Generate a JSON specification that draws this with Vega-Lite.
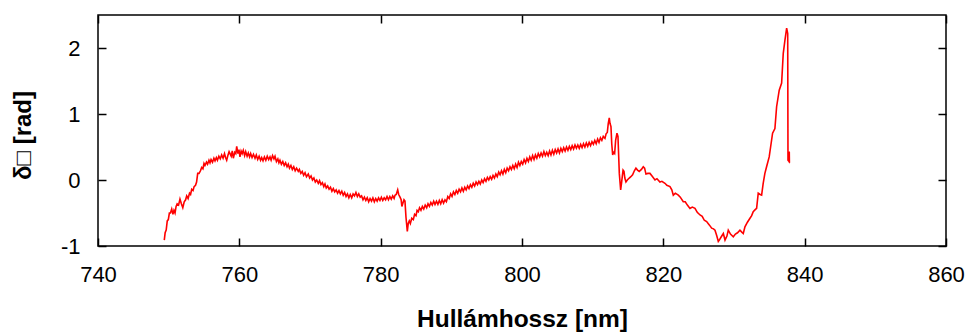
{
  "$schema": "https://vega.github.io/schema/vega-lite/v6.json",
  "width": 848,
  "height": 231,
  "autosize": {"type": "none"},
  "padding": {"left": 98, "top": 15, "right": 33, "bottom": 90},
  "config": {
    "font": "Liberation Sans",
    "view": {"stroke": "#000000", "strokeWidth": 1.5},
    "axis": {"grid": false, "domain": false, "tickColor": "#000000", "tickWidth": 1.5, "labelColor": "#000000", "titleColor": "#000000", "labelFont": "Liberation Sans", "titleFont": "Liberation Sans", "labelFlush": false, "labelOverlap": false}
  },
  "data": {"values": [
{"x":749.38,"y":-0.91},{"x":749.5,"y":-0.80},{"x":749.65,"y":-0.76},{"x":749.8,"y":-0.62},{"x":749.95,"y":-0.60},{"x":750.1,"y":-0.50},{"x":750.25,"y":-0.50},{"x":750.43,"y":-0.44},{"x":750.6,"y":-0.52},{"x":750.75,"y":-0.46},{"x":750.9,"y":-0.50},{"x":751.05,"y":-0.40},{"x":751.2,"y":-0.36},{"x":751.4,"y":-0.38},{"x":751.6,"y":-0.29},{"x":751.8,"y":-0.36},{"x":752.0,"y":-0.42},{"x":752.2,"y":-0.33},{"x":752.4,"y":-0.30},{"x":752.55,"y":-0.24},{"x":752.75,"y":-0.28},{"x":752.95,"y":-0.20},{"x":753.1,"y":-0.22},{"x":753.26,"y":-0.14},{"x":753.45,"y":-0.16},{"x":753.6,"y":-0.10},{"x":753.8,"y":-0.08},{"x":753.95,"y":-0.03},{"x":754.11,"y":0.10},{"x":754.3,"y":0.10},{"x":754.5,"y":0.14},{"x":754.67,"y":0.19},{"x":754.85,"y":0.17},{"x":755.0,"y":0.25},{"x":755.14,"y":0.22},{"x":755.35,"y":0.27},{"x":755.5,"y":0.24},{"x":755.7,"y":0.30},{"x":755.85,"y":0.26},{"x":756.0,"y":0.31},{"x":756.2,"y":0.27},{"x":756.4,"y":0.33},{"x":756.56,"y":0.29},{"x":756.75,"y":0.34},{"x":756.9,"y":0.30},{"x":757.1,"y":0.36},{"x":757.3,"y":0.32},{"x":757.5,"y":0.38},{"x":757.7,"y":0.33},{"x":757.9,"y":0.40},{"x":758.05,"y":0.34},{"x":758.21,"y":0.30},{"x":758.4,"y":0.38},{"x":758.55,"y":0.43},{"x":758.68,"y":0.40},{"x":758.85,"y":0.36},{"x":759.0,"y":0.44},{"x":759.15,"y":0.33},{"x":759.35,"y":0.42},{"x":759.5,"y":0.40},{"x":759.63,"y":0.51},{"x":759.8,"y":0.40},{"x":759.95,"y":0.46},{"x":760.09,"y":0.35},{"x":760.25,"y":0.44},{"x":760.4,"y":0.40},{"x":760.56,"y":0.45},{"x":760.75,"y":0.37},{"x":760.9,"y":0.43},{"x":761.1,"y":0.36},{"x":761.27,"y":0.41},{"x":761.45,"y":0.35},{"x":761.6,"y":0.40},{"x":761.8,"y":0.34},{"x":762.0,"y":0.39},{"x":762.22,"y":0.33},{"x":762.4,"y":0.38},{"x":762.6,"y":0.31},{"x":762.8,"y":0.36},{"x":763.0,"y":0.30},{"x":763.16,"y":0.34},{"x":763.35,"y":0.29},{"x":763.55,"y":0.35},{"x":763.75,"y":0.30},{"x":763.95,"y":0.36},{"x":764.15,"y":0.31},{"x":764.34,"y":0.35},{"x":764.5,"y":0.30},{"x":764.7,"y":0.37},{"x":764.9,"y":0.32},{"x":765.05,"y":0.36},{"x":765.25,"y":0.28},{"x":765.45,"y":0.32},{"x":765.6,"y":0.26},{"x":765.75,"y":0.30},{"x":765.95,"y":0.24},{"x":766.15,"y":0.28},{"x":766.35,"y":0.22},{"x":766.55,"y":0.26},{"x":766.75,"y":0.20},{"x":766.93,"y":0.24},{"x":767.1,"y":0.18},{"x":767.3,"y":0.22},{"x":767.5,"y":0.16},{"x":767.7,"y":0.20},{"x":767.9,"y":0.14},{"x":768.1,"y":0.18},{"x":768.34,"y":0.13},{"x":768.5,"y":0.16},{"x":768.7,"y":0.10},{"x":768.9,"y":0.13},{"x":769.1,"y":0.07},{"x":769.3,"y":0.11},{"x":769.5,"y":0.05},{"x":769.76,"y":0.09},{"x":769.95,"y":0.03},{"x":770.15,"y":0.06},{"x":770.35,"y":0.0},{"x":770.55,"y":0.03},{"x":770.75,"y":-0.03},{"x":770.95,"y":0.0},{"x":771.17,"y":-0.05},{"x":771.35,"y":-0.01},{"x":771.55,"y":-0.07},{"x":771.75,"y":-0.04},{"x":771.95,"y":-0.10},{"x":772.12,"y":-0.06},{"x":772.3,"y":-0.12},{"x":772.5,"y":-0.09},{"x":772.7,"y":-0.14},{"x":772.9,"y":-0.11},{"x":773.1,"y":-0.17},{"x":773.3,"y":-0.13},{"x":773.5,"y":-0.18},{"x":773.7,"y":-0.15},{"x":773.9,"y":-0.20},{"x":774.1,"y":-0.16},{"x":774.3,"y":-0.21},{"x":774.5,"y":-0.17},{"x":774.7,"y":-0.23},{"x":774.9,"y":-0.19},{"x":775.1,"y":-0.25},{"x":775.3,"y":-0.21},{"x":775.5,"y":-0.27},{"x":775.7,"y":-0.22},{"x":775.9,"y":-0.27},{"x":776.1,"y":-0.21},{"x":776.3,"y":-0.24},{"x":776.5,"y":-0.19},{"x":776.7,"y":-0.25},{"x":776.9,"y":-0.21},{"x":777.1,"y":-0.26},{"x":777.3,"y":-0.24},{"x":777.5,"y":-0.30},{"x":777.7,"y":-0.26},{"x":777.9,"y":-0.31},{"x":778.1,"y":-0.27},{"x":778.3,"y":-0.33},{"x":778.5,"y":-0.28},{"x":778.7,"y":-0.32},{"x":778.9,"y":-0.27},{"x":779.1,"y":-0.33},{"x":779.3,"y":-0.28},{"x":779.5,"y":-0.32},{"x":779.7,"y":-0.27},{"x":779.9,"y":-0.31},{"x":780.1,"y":-0.26},{"x":780.3,"y":-0.31},{"x":780.5,"y":-0.27},{"x":780.7,"y":-0.30},{"x":780.9,"y":-0.25},{"x":781.1,"y":-0.30},{"x":781.3,"y":-0.25},{"x":781.5,"y":-0.29},{"x":781.7,"y":-0.24},{"x":781.9,"y":-0.28},{"x":782.03,"y":-0.23},{"x":782.2,"y":-0.22},{"x":782.41,"y":-0.15},{"x":782.55,"y":-0.22},{"x":782.74,"y":-0.26},{"x":782.9,"y":-0.30},{"x":783.0,"y":-0.40},{"x":783.12,"y":-0.36},{"x":783.3,"y":-0.30},{"x":783.44,"y":-0.32},{"x":783.58,"y":-0.56},{"x":783.77,"y":-0.78},{"x":783.9,"y":-0.66},{"x":784.05,"y":-0.62},{"x":784.2,"y":-0.66},{"x":784.4,"y":-0.58},{"x":784.62,"y":-0.60},{"x":784.8,"y":-0.52},{"x":785.0,"y":-0.54},{"x":785.15,"y":-0.46},{"x":785.33,"y":-0.48},{"x":785.5,"y":-0.42},{"x":785.7,"y":-0.46},{"x":785.9,"y":-0.40},{"x":786.1,"y":-0.44},{"x":786.3,"y":-0.38},{"x":786.51,"y":-0.42},{"x":786.7,"y":-0.36},{"x":786.9,"y":-0.40},{"x":787.1,"y":-0.34},{"x":787.3,"y":-0.38},{"x":787.5,"y":-0.32},{"x":787.69,"y":-0.37},{"x":787.9,"y":-0.32},{"x":788.1,"y":-0.37},{"x":788.3,"y":-0.31},{"x":788.5,"y":-0.36},{"x":788.7,"y":-0.30},{"x":788.9,"y":-0.35},{"x":789.1,"y":-0.30},{"x":789.3,"y":-0.33},{"x":789.5,"y":-0.25},{"x":789.7,"y":-0.28},{"x":789.9,"y":-0.21},{"x":790.1,"y":-0.25},{"x":790.3,"y":-0.18},{"x":790.5,"y":-0.22},{"x":790.7,"y":-0.16},{"x":790.9,"y":-0.20},{"x":791.1,"y":-0.14},{"x":791.3,"y":-0.18},{"x":791.5,"y":-0.12},{"x":791.7,"y":-0.17},{"x":791.9,"y":-0.11},{"x":792.1,"y":-0.15},{"x":792.3,"y":-0.09},{"x":792.5,"y":-0.13},{"x":792.7,"y":-0.07},{"x":792.9,"y":-0.11},{"x":793.1,"y":-0.05},{"x":793.3,"y":-0.09},{"x":793.5,"y":-0.03},{"x":793.7,"y":-0.07},{"x":793.9,"y":-0.02},{"x":794.1,"y":-0.06},{"x":794.3,"y":0.0},{"x":794.5,"y":-0.04},{"x":794.7,"y":0.02},{"x":794.9,"y":-0.02},{"x":795.1,"y":0.04},{"x":795.3,"y":0.0},{"x":795.5,"y":0.05},{"x":795.7,"y":0.01},{"x":795.9,"y":0.07},{"x":796.1,"y":0.03},{"x":796.3,"y":0.09},{"x":796.5,"y":0.05},{"x":796.7,"y":0.12},{"x":796.9,"y":0.08},{"x":797.1,"y":0.14},{"x":797.3,"y":0.09},{"x":797.5,"y":0.16},{"x":797.7,"y":0.11},{"x":797.9,"y":0.18},{"x":798.1,"y":0.14},{"x":798.3,"y":0.20},{"x":798.5,"y":0.16},{"x":798.7,"y":0.22},{"x":798.9,"y":0.17},{"x":799.1,"y":0.24},{"x":799.3,"y":0.19},{"x":799.5,"y":0.27},{"x":799.7,"y":0.22},{"x":799.9,"y":0.28},{"x":800.1,"y":0.24},{"x":800.3,"y":0.31},{"x":800.5,"y":0.26},{"x":800.7,"y":0.33},{"x":800.9,"y":0.28},{"x":801.1,"y":0.35},{"x":801.3,"y":0.30},{"x":801.5,"y":0.37},{"x":801.7,"y":0.31},{"x":801.9,"y":0.38},{"x":802.1,"y":0.33},{"x":802.3,"y":0.40},{"x":802.5,"y":0.35},{"x":802.7,"y":0.41},{"x":802.9,"y":0.36},{"x":803.1,"y":0.43},{"x":803.3,"y":0.37},{"x":803.5,"y":0.42},{"x":803.7,"y":0.37},{"x":803.9,"y":0.44},{"x":804.1,"y":0.38},{"x":804.3,"y":0.45},{"x":804.5,"y":0.39},{"x":804.7,"y":0.46},{"x":804.9,"y":0.41},{"x":805.1,"y":0.47},{"x":805.3,"y":0.41},{"x":805.5,"y":0.48},{"x":805.7,"y":0.43},{"x":805.9,"y":0.49},{"x":806.1,"y":0.44},{"x":806.3,"y":0.50},{"x":806.5,"y":0.45},{"x":806.7,"y":0.51},{"x":806.9,"y":0.46},{"x":807.1,"y":0.52},{"x":807.3,"y":0.47},{"x":807.5,"y":0.53},{"x":807.7,"y":0.48},{"x":807.9,"y":0.53},{"x":808.1,"y":0.48},{"x":808.3,"y":0.54},{"x":808.5,"y":0.49},{"x":808.7,"y":0.55},{"x":808.9,"y":0.50},{"x":809.1,"y":0.56},{"x":809.3,"y":0.51},{"x":809.5,"y":0.57},{"x":809.7,"y":0.52},{"x":809.9,"y":0.58},{"x":810.1,"y":0.54},{"x":810.3,"y":0.60},{"x":810.5,"y":0.55},{"x":810.7,"y":0.62},{"x":810.9,"y":0.57},{"x":811.1,"y":0.64},{"x":811.3,"y":0.60},{"x":811.5,"y":0.66},{"x":811.74,"y":0.63},{"x":811.9,"y":0.70},{"x":812.07,"y":0.72},{"x":812.2,"y":0.85},{"x":812.35,"y":0.94},{"x":812.45,"y":0.86},{"x":812.59,"y":0.81},{"x":812.7,"y":0.55},{"x":812.83,"y":0.38},{"x":812.95,"y":0.42},{"x":813.11,"y":0.40},{"x":813.25,"y":0.60},{"x":813.44,"y":0.71},{"x":813.58,"y":0.66},{"x":813.77,"y":0.10},{"x":813.96,"y":-0.15},{"x":814.08,"y":-0.05},{"x":814.19,"y":0.05},{"x":814.3,"y":0.15},{"x":814.43,"y":0.13},{"x":814.55,"y":0.03},{"x":814.71,"y":-0.03},{"x":814.9,"y":0.0},{"x":815.18,"y":0.03},{"x":815.4,"y":0.05},{"x":815.65,"y":0.08},{"x":815.9,"y":0.14},{"x":816.12,"y":0.18},{"x":816.35,"y":0.15},{"x":816.59,"y":0.13},{"x":816.9,"y":0.16},{"x":817.16,"y":0.20},{"x":817.35,"y":0.18},{"x":817.54,"y":0.09},{"x":817.8,"y":0.10},{"x":818.11,"y":0.10},{"x":818.4,"y":0.06},{"x":818.82,"y":0.0},{"x":819.1,"y":0.02},{"x":819.52,"y":-0.03},{"x":819.8,"y":-0.02},{"x":820.23,"y":-0.05},{"x":820.5,"y":-0.08},{"x":820.94,"y":-0.10},{"x":821.2,"y":-0.15},{"x":821.41,"y":-0.23},{"x":821.7,"y":-0.20},{"x":822.12,"y":-0.23},{"x":822.4,"y":-0.26},{"x":822.82,"y":-0.33},{"x":823.1,"y":-0.33},{"x":823.4,"y":-0.38},{"x":823.77,"y":-0.43},{"x":824.1,"y":-0.41},{"x":824.48,"y":-0.43},{"x":824.8,"y":-0.49},{"x":825.19,"y":-0.53},{"x":825.5,"y":-0.55},{"x":825.8,"y":-0.61},{"x":826.13,"y":-0.63},{"x":826.5,"y":-0.68},{"x":826.84,"y":-0.73},{"x":827.1,"y":-0.74},{"x":827.31,"y":-0.76},{"x":827.55,"y":-0.84},{"x":827.78,"y":-0.93},{"x":827.92,"y":-0.91},{"x":828.2,"y":-0.86},{"x":828.49,"y":-0.81},{"x":828.73,"y":-0.91},{"x":829.0,"y":-0.85},{"x":829.19,"y":-0.76},{"x":829.5,"y":-0.82},{"x":829.9,"y":-0.86},{"x":830.2,"y":-0.82},{"x":830.5,"y":-0.80},{"x":830.84,"y":-0.76},{"x":831.1,"y":-0.79},{"x":831.31,"y":-0.81},{"x":831.55,"y":-0.71},{"x":831.9,"y":-0.64},{"x":832.26,"y":-0.58},{"x":832.5,"y":-0.54},{"x":832.72,"y":-0.48},{"x":833.0,"y":-0.45},{"x":833.2,"y":-0.43},{"x":833.43,"y":-0.20},{"x":833.7,"y":-0.22},{"x":833.91,"y":-0.23},{"x":834.13,"y":-0.05},{"x":834.37,"y":0.10},{"x":834.61,"y":0.20},{"x":834.98,"y":0.35},{"x":835.18,"y":0.50},{"x":835.46,"y":0.71},{"x":835.79,"y":0.78},{"x":836.03,"y":1.11},{"x":836.4,"y":1.36},{"x":836.74,"y":1.47},{"x":836.97,"y":1.92},{"x":837.21,"y":2.12},{"x":837.45,"y":2.30},{"x":837.6,"y":2.22},{"x":837.64,"y":0.30},{"x":837.8,"y":0.28},{"x":837.82,"y":0.43},{"x":837.84,"y":0.26}
  ]},
  "encoding": {
    "x": {"field": "x", "type": "quantitative", "scale": {"domain": [740, 860], "nice": false, "zero": false}},
    "y": {"field": "y", "type": "quantitative", "scale": {"domain": [-1, 2.5], "nice": false, "zero": false}}
  },
  "layer": [
    {
      "mark": {"type": "line", "color": "#ff0000", "strokeWidth": 1.6, "clip": true},
      "encoding": {
        "x": {"field": "x", "type": "quantitative", "axis": {"orient": "bottom", "values": [740, 760, 780, 800, 820, 840, 860], "tickSize": -8, "labelFontSize": 22, "labelPadding": 26, "title": "Hullámhossz [nm]", "titleFontSize": 24.5, "titleFontWeight": "bold", "titlePadding": 22}},
        "y": {"field": "y", "type": "quantitative", "axis": {"orient": "left", "values": [-1, 0, 1, 2], "tickSize": -8, "labelFontSize": 22, "labelPadding": 26, "labelExpr": "replace(datum.label, '−', '-')", "title": "δ□ [rad]", "titleFontSize": 24, "titleFontWeight": "bold", "titlePadding": 25, "titleY": 120}}
      }
    },
    {
      "mark": {"type": "line", "strokeOpacity": 0},
      "encoding": {
        "x": {"field": "x", "type": "quantitative", "axis": {"orient": "top", "values": [740, 760, 780, 800, 820, 840, 860], "tickSize": -8, "labels": false, "title": null}},
        "y": {"field": "y", "type": "quantitative", "axis": {"orient": "right", "values": [-1, 0, 1, 2], "tickSize": -8, "labels": false, "title": null}}
      }
    }
  ],
  "resolve": {"axis": {"x": "independent", "y": "independent"}}
}
